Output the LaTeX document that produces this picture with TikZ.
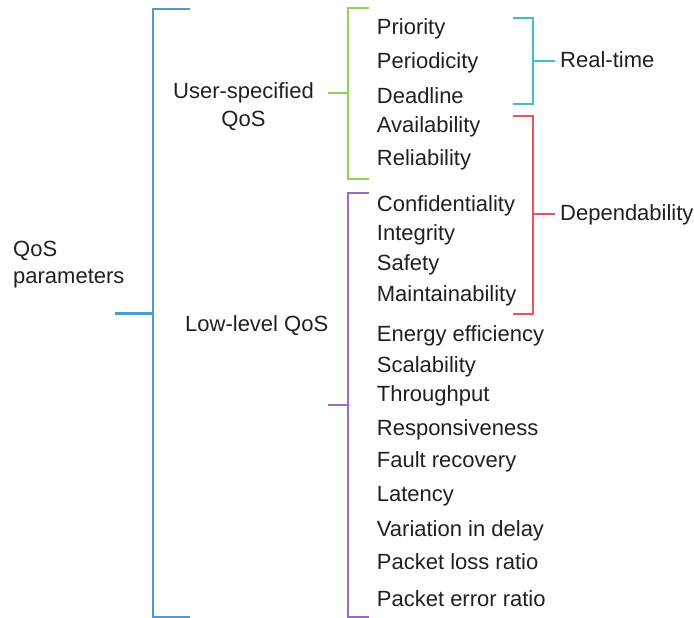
\documentclass[tikz,border=0pt]{standalone}
\usepackage{fontspec}
\setmainfont{Liberation Sans}
\definecolor{cblue}{HTML}{4E9BD2}
\definecolor{cgreen}{HTML}{8FD155}
\definecolor{cpurple}{HTML}{9A6BC6}
\definecolor{ccyan}{HTML}{3EBFCA}
\definecolor{cred}{HTML}{F24F5E}
\definecolor{ctext}{HTML}{231F20}
\begin{document}
\begin{tikzpicture}[x=1pt,y=-1pt,
  lbl/.style={anchor=base west,inner sep=0pt,font=\fontsize{22}{26}\selectfont,text=ctext},
  brk/.style={line width=2.4pt}]
\useasboundingbox (0,0) rectangle (694,618);
% labels
\node[lbl] (qos) at (13,256.7) {QoS};
\node[lbl] (par) at (13,283.3) {parameters};
\node[lbl,anchor=base] (us1) at (243.5,99) {User-specified};
\node[lbl,anchor=base] (us2) at (243.5,126) {QoS};
\node[lbl] (ll) at (185,331.7) {Low-level QoS};
\foreach \t/\y/\n in {Priority/34.3/a1,Periodicity/68.3/a2,Deadline/103.3/a3,Availability/132.3/a4,Reliability/165.7/a5,Confidentiality/211/b1,Integrity/240/b2,Safety/270.7/b3,Maintainability/301/b4,Energy efficiency/341/b5,Scalability/372.7/b6,Throughput/401.7/b7,Responsiveness/435/b8,Fault recovery/467.7/b9,Latency/501/b10,Variation in delay/536/b11,Packet loss ratio/569.3/b12,Packet error ratio/606/b13}
  \node[lbl] (\n) at (376.7,\y) {\t};
\node[lbl] (rt) at (560,67.7) {Real-time};
\node[lbl] (dep) at (560,220) {Dependability};
% blue bracket
\coordinate (bl0) at (115,313.3);
\coordinate (bl1) at (153,313.3);
\draw[brk,cblue] (190,9) -- (153,9) -- (153,617) -- (190,617);
\draw[brk,cblue] (bl0) -- (bl1);
% green bracket
\coordinate (g0) at (328,93);
\coordinate (g1) at (348,93);
\draw[brk,cgreen] (369,8) -- (348,8) -- (348,179) -- (369,179);
\draw[brk,cgreen] (g0) -- (g1);
% purple bracket
\coordinate (p0) at (328,405);
\coordinate (p1) at (348,405);
\draw[brk,cpurple] (369,193) -- (348,193) -- (348,617) -- (369,617);
\draw[brk,cpurple] (p0) -- (p1);
% cyan bracket
\coordinate (c0) at (533,61);
\coordinate (c1) at (555,61);
\draw[brk,ccyan] (513,18) -- (533,18) -- (533,104) -- (513,104);
\draw[brk,ccyan] (c0) -- (c1);
% red bracket
\coordinate (r0) at (533,214);
\coordinate (r1) at (555,214);
\draw[brk,cred] (513,116) -- (533,116) -- (533,314) -- (513,314);
\draw[brk,cred] (r0) -- (r1);
\end{tikzpicture}
\end{document}
